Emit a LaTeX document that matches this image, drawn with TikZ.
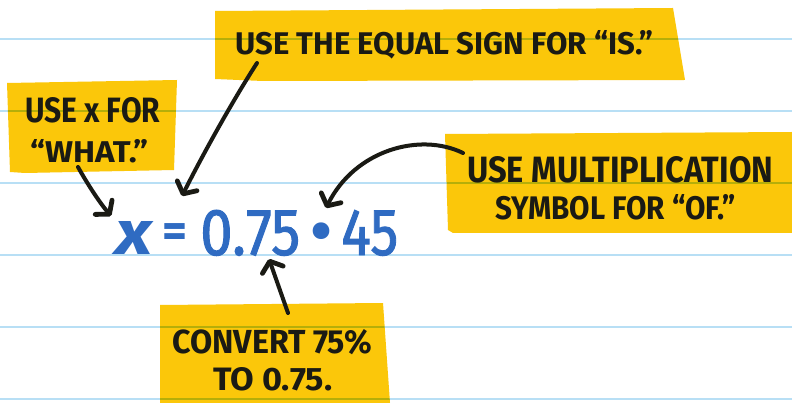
\documentclass[tikz,border=0pt]{standalone}
\usepackage{fontspec}
\usepackage{graphicx}
\setmainfont{Fira Sans}
\usetikzlibrary{arrows.meta}
\definecolor{sticky}{HTML}{FBC70A}
\definecolor{mathblue}{HTML}{2F6BC2}
\definecolor{ruled}{HTML}{B8DFF5}
\definecolor{ink}{HTML}{1A1A14}
\newcommand{\hw}[3]{\resizebox{#1}{#2}{\bfseries #3}}
\tikzset{
  ruleline/.style={draw=ruled, line width=2pt},
  note/.style={fill=sticky, draw=none},
  lbl/.style={anchor=base west, inner sep=0pt, text=ink},
  eqn/.style={inner sep=0pt, text=mathblue},
  pointer/.style={draw=ink, line width=4pt, line cap=round,
    -{Straight Barb[length=9pt, width=22pt, line width=0pt 1.2, round]}}
}
\begin{document}
\begin{tikzpicture}[x=1pt, y=-1pt]
\useasboundingbox (0,0) rectangle (792,403);
\fill[white] (0,0) rectangle (792,403);
% ruled lines
\foreach \yy in {39,111,183,255,327,399}
  \draw[ruleline] (0,\yy) -- (792,\yy);
% sticky notes
\begin{scope}[blend mode=multiply]
\path[note] (7,83) -- (177,80) -- (174,170) -- (25,173) -- (10,172) -- cycle;
\path[note] (215,11) -- (673,8) -- (685,80) -- (263,81) -- (215,79) -- cycle;
\path[note] (445,134) -- (792,132) -- (792,233) -- (453,233) -- (448,230) -- cycle;
\path[note] (160,305) -- (383,303) -- (390,403) -- (160,403) -- cycle;
\end{scope}
% note texts
\node[lbl] (n1a) at (25,123) {\hw{135pt}{25pt}{USE x FOR}};
\node[lbl] (n1b) at (30,163) {\hw{118pt}{23pt}{“WHAT.”}};
\node[lbl] (n2) at (235,55) {\hw{418pt}{24pt}{USE THE EQUAL SIGN FOR “IS.”}};
\node[lbl] (n3a) at (467,183) {\hw{306pt}{26pt}{USE MULTIPLICATION}};
\node[lbl] (n3b) at (495,220) {\hw{240pt}{25pt}{SYMBOL FOR “OF.”}};
\node[lbl] (n4a) at (172,353) {\hw{200pt}{24pt}{CONVERT 75\%}};
\node[lbl] (n4b) at (213,390) {\hw{119pt}{23pt}{TO 0.75.}};
% equation
\node[eqn, anchor=base west] (ex) at (115,255) {\resizebox{37pt}{33pt}{\bfseries\itshape x}};
\node[eqn] (eq) at (174.5,236) {\resizebox{25pt}{!}{\bfseries =}};
\node[eqn, anchor=base west] (e075) at (200,255) {\resizebox{100pt}{45pt}{\addfontfeatures{FakeBold=1.5}0.75}};
\node[eqn] (edot) at (322,240) {\resizebox{24pt}{!}{•}};
\node[eqn, anchor=base west] (e45) at (341,255) {\resizebox{57pt}{45pt}{\addfontfeatures{FakeBold=1.5}45}};
% arrow ends
\coordinate (a1s) at (78,167);
\coordinate (a1e) at (111,216);
\coordinate (a2s) at (257,63);
\coordinate (a2e) at (182,196);
\coordinate (a3s) at (463,153);
\coordinate (a3e) at (326,208);
\coordinate (a4s) at (288,313);
\coordinate (a4e) at (269,259);
\draw[pointer] (a1s) .. controls (88,185) and (100,203) .. (a1e);
\draw[pointer] (a2s) .. controls (230,105) and (200,160) .. (a2e);
\draw[pointer] (a3s) .. controls (420,132) and (355,150) .. (a3e);
\draw[pointer] (a4s) -- (a4e);
\end{tikzpicture}
\end{document}
